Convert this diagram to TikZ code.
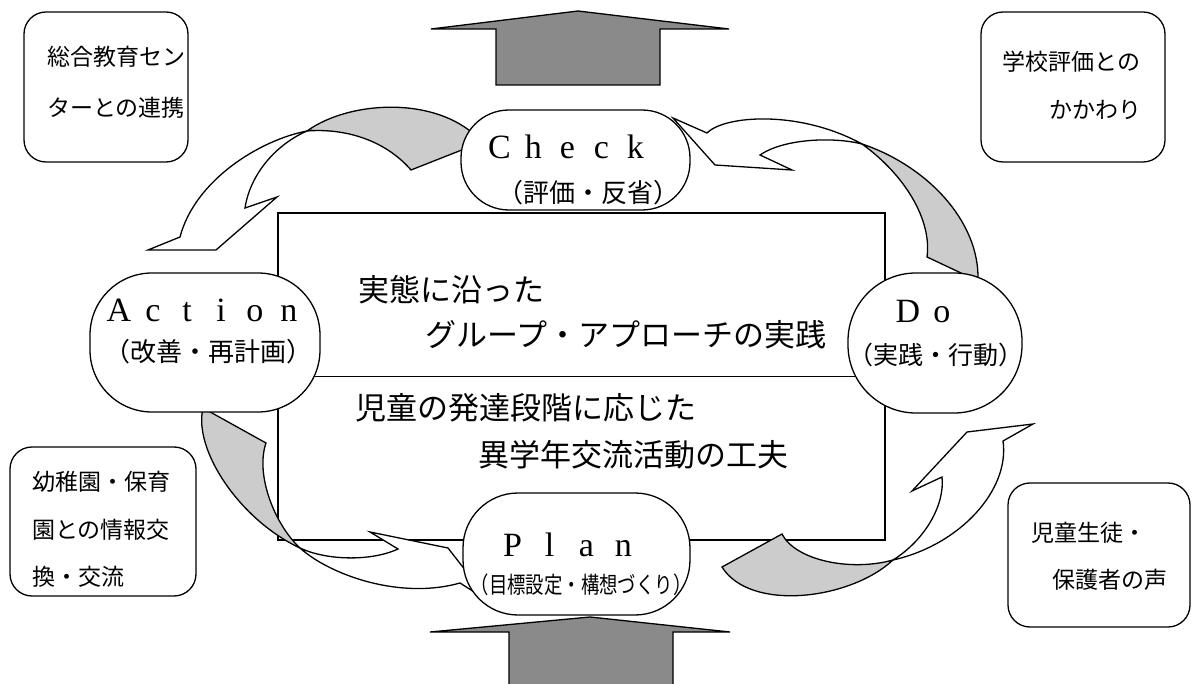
\documentclass[tikz,border=0pt]{standalone}
\usepackage{fontspec}
\setmainfont{Liberation Serif}
\newfontfamily\jp{Noto Sans CJK JP}
\newfontfamily\lat{Liberation Serif}
\definecolor{bigfill}{RGB}{138,138,138}
\definecolor{backfill}{RGB}{204,204,204}
\newlength\fwcell
\setlength\fwcell{34pt}
\def\fwword#1{\fwloop#1\relax}
\def\fwloop#1{\ifx#1\relax\else\makebox[\fwcell]{#1}\expandafter\fwloop\fi}
\tikzset{
  ln/.style={draw=black, line width=1.3pt},
  backpart/.style={ln, fill=backfill},
  frontpart/.style={ln, fill=white},
  bigarrow/.style={fill=bigfill},
  sidebox/.style={ln, fill=white, rounded corners=22pt, inner sep=0pt, outer sep=0pt},
  phase/.style={ln, fill=white, inner sep=0pt, outer sep=0pt},
  boxtext/.style={inner sep=0pt, anchor=west, font=\jp\fontsize{23pt}{23pt}\selectfont},
  coretext/.style={inner sep=0pt, anchor=west, font=\jp\fontsize{31pt}{31pt}\selectfont},
  phasename/.style={inner sep=0pt, font=\lat\fontsize{34pt}{34pt}\selectfont},
  phasesub/.style={inner sep=0pt, font=\jp\fontsize{26pt}{26pt}\selectfont},
}
\begin{document}
\begin{tikzpicture}[x=1pt,y=-1pt,line join=miter]
\useasboundingbox (0,0) rectangle (1192,684);
\fill[white] (0,0) rectangle (1192,684);

% big vertical arrows
\path[bigarrow] (496,85) -- (496,29) -- (431,29) -- (578,11) -- (729,29) -- (660,29) -- (660,85) -- cycle;
\draw[ln] (496,85) -- (496,29) -- (431,29) -- (578,11) -- (729,29) -- (660,29) -- (660,85) -- cycle;
\path[bigarrow] (509,685) -- (509,632) -- (430,632) -- (590,617) -- (730,632) -- (673,632) -- (673,685) -- cycle;
\draw[ln] (509,685) -- (509,632) -- (430,632) -- (590,617) -- (730,632) -- (673,632) -- (673,685);

% central rectangle
\node[ln, inner sep=0pt, outer sep=0pt, minimum width=607pt, minimum height=327pt] (core) at (581.5,376.5) {};
\draw[ln] (core.west) -- (core.east);

% curved arrow: Check -> Action
\path[backpart] (307,131) .. controls (350,100) and (440,95) .. (482,142) -- (411,170) .. controls (385,140) and (345,128) .. (307,131) -- cycle;
\path[frontpart] (307,131) .. controls (260,140) and (195,180) .. (180,237) -- (148,250) -- (216,250) -- (277,197) -- (245,208) .. controls (250,175) and (275,145) .. (307,131) -- cycle;

% curved arrow: Do -> Check
\path[backpart] (862,144) .. controls (925,165) and (980,220) .. (978,281) -- (927,257) .. controls (932,220) and (905,175) .. (862,144) -- cycle;
\path[frontpart] (862,144) .. controls (835,137) and (785,138) .. (760,155) -- (792,170) -- (715,165) -- (673,118) -- (707,133) .. controls (725,115) and (800,110) .. (862,144) -- cycle;

% curved arrow: Action -> Plan
\path[backpart] (203,408) .. controls (193,450) and (240,520) .. (300,548) .. controls (275,525) and (255,475) .. (266,443) -- cycle;
\path[frontpart] (300,548) .. controls (330,575) and (400,600) .. (460,583) -- (490,602) -- (448,548) -- (370,532) -- (398,549) .. controls (370,562) and (325,560) .. (300,548) -- cycle;

% curved arrow: Plan -> Do
\path[backpart] (722,567) -- (782,534) .. controls (795,560) and (850,572) .. (893,560) .. controls (850,600) and (750,612) .. (722,567) -- cycle;
\path[frontpart] (893,560) .. controls (960,545) and (1010,490) .. (1003,441) -- (1033,424) -- (967,432) -- (912,491) -- (942,477) .. controls (945,505) and (925,540) .. (893,560) -- cycle;

% phase nodes
\node[phase, rounded corners=48pt, minimum width=229pt, minimum height=100pt] (check) at (575.5,160) {};
\node[phase, rounded corners=62pt, minimum width=230pt, minimum height=139pt] (action) at (205,342.5) {};
\node[phase, rounded corners=68pt, minimum width=174pt, minimum height=140pt] (do) at (935,343) {};
\node[phase, rounded corners=55pt, minimum width=227pt, minimum height=122pt] (plan) at (576.5,554) {};

% phase labels
\node[phasename] (checkname) at (567.5,147) {\fwword{Check}};
\node[phasesub] (checksub) at (588,193) {（評価・反省）};
\node[phasename] (actionname) at (204,310) {\fwword{Action}};
\node[phasesub] (actionsub) at (208.5,352) {（改善・再計画）};
\node[phasename] (doname) at (925,312) {\fwword{Do}};
\node[phasesub, font=\jp\fontsize{25pt}{25pt}\selectfont] (dosub) at (936,355) {（実践・行動）};
\node[phasename] (planname) at (568,545) {\setlength\fwcell{37pt}\fwword{Plan}};
\node[phasesub] (plansub) at (581,585) {\scalebox{0.8}[1]{\jp\fontsize{23pt}{23pt}\selectfont （目標設定・構想づくり）}};

% central text
\node[coretext] (c1) at (358,290) {実態に沿った};
\node[coretext] (c2) at (425,335) {グループ・アプローチの実践};
\node[coretext] (c3) at (355,408) {児童の発達段階に応じた};
\node[coretext] (c4) at (478,455) {異学年交流活動の工夫};

% side boxes
\node[sidebox, minimum width=164pt, minimum height=150pt] (tl) at (106,87) {};
\node[boxtext] (tl1) at (47,57) {総合教育セン};
\node[boxtext] (tl2) at (47,108) {ターとの連携};

\node[sidebox, minimum width=184pt, minimum height=150pt] (tr) at (1073,87) {};
\node[boxtext] (tr1) at (1002,62) {学校評価との};
\node[boxtext] (tr2) at (1049,110) {かかわり};

\node[sidebox, minimum width=186pt, minimum height=149pt] (bl) at (103,521.5) {};
\node[boxtext] (bl1) at (32,482) {幼稚園・保育};
\node[boxtext] (bl2) at (32,530) {園との情報交};
\node[boxtext] (bl3) at (32,577) {換・交流};

\node[sidebox, minimum width=182pt, minimum height=144pt] (br) at (1099,555) {};
\node[boxtext] (br1) at (1031,533) {児童生徒・};
\node[boxtext] (br2) at (1052,580) {保護者の声};
\end{tikzpicture}
\end{document}
